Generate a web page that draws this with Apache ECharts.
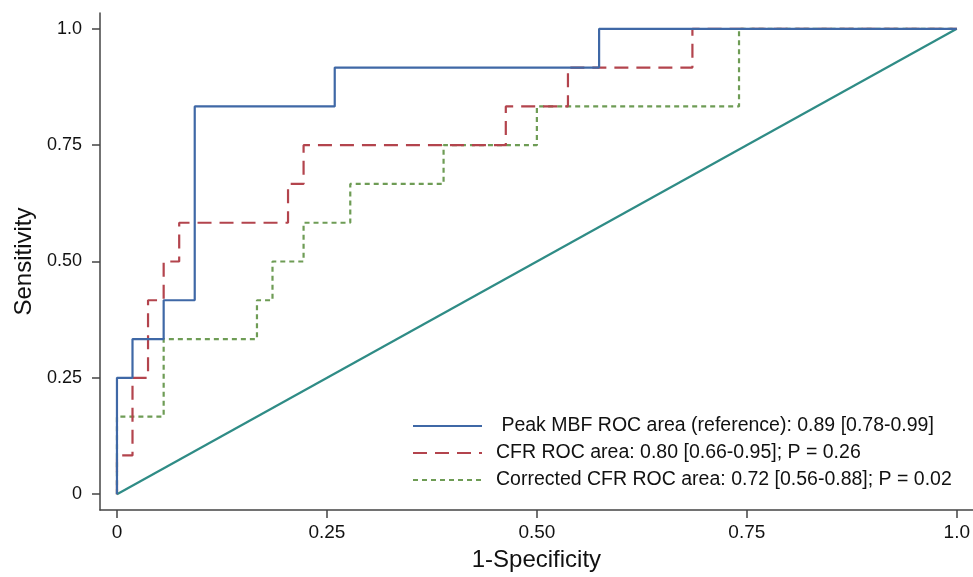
<!DOCTYPE html>
<html>
<head>
<meta charset="utf-8">
<script src="https://cdn.jsdelivr.net/npm/echarts@6/dist/echarts.min.js"></script>
<style>
  html, body { margin: 0; padding: 0; background: #fff; }
  #chart { width: 973px; height: 577px; }
</style>
</head>
<body>
<div id="chart"></div>
<script>
// ROC vertices (1-specificity, sensitivity)
var mbfX = [0, 0, 0.0185, 0.0185, 0.0556, 0.0556, 0.0926, 0.0926, 0.2593, 0.2593, 0.5741, 0.5741, 1];
var mbfY = [0, 0.25, 0.25, 0.3333, 0.3333, 0.4167, 0.4167, 0.8333, 0.8333, 0.9167, 0.9167, 1, 1];

var cfrX = [0, 0, 0.0185, 0.0185, 0.037, 0.037, 0.0556, 0.0556, 0.0741, 0.0741, 0.2037, 0.2037, 0.2222, 0.2222, 0.463, 0.463, 0.537, 0.537, 0.6852, 0.6852, 1];
var cfrY = [0, 0.0833, 0.0833, 0.25, 0.25, 0.4167, 0.4167, 0.5, 0.5, 0.5833, 0.5833, 0.6667, 0.6667, 0.75, 0.75, 0.8333, 0.8333, 0.9167, 0.9167, 1, 1];

var corrX = [0, 0, 0.0556, 0.0556, 0.1667, 0.1667, 0.1852, 0.1852, 0.2222, 0.2222, 0.2778, 0.2778, 0.3889, 0.3889, 0.5, 0.5, 0.7407, 0.7407, 1];
var corrY = [0, 0.1667, 0.1667, 0.3333, 0.3333, 0.4167, 0.4167, 0.5, 0.5, 0.5833, 0.5833, 0.6667, 0.6667, 0.75, 0.75, 0.8333, 0.8333, 1, 1];

var refX = [0, 1];
var refY = [0, 1];

var tickValues = [0, 0.25, 0.5, 0.75, 1];
var tickLabels = ['0', '0.25', '0.50', '0.75', '1.0'];

var names = [
  ' Peak MBF ROC area (reference): 0.89 [0.78-0.99]',
  'CFR ROC area: 0.80 [0.66-0.95]; P = 0.26',
  'Corrected CFR ROC area: 0.72 [0.56-0.88]; P = 0.02'
];

function pairs(xs, ys) {
  var out = [];
  for (var i = 0; i < xs.length; i++) {
    out.push([xs[i], ys[i]]);
  }
  return out;
}

function tickText(v) {
  var i = tickValues.indexOf(v);
  return i >= 0 ? tickLabels[i] : '';
}

var font = '"Liberation Sans", Arial, Helvetica, sans-serif';
var axisColor = '#444';

var chart = echarts.init(document.getElementById('chart'));
chart.setOption({
  animation: false,
  backgroundColor: '#fff',
  grid: {left: 100, right: 0, top: 13, bottom: 62},
  legend: {
    orient: 'vertical',
    left: 412,
    top: 416,
    padding: 0,
    itemWidth: 69,
    itemHeight: 14,
    itemGap: 7,
    data: names,
    itemStyle: {opacity: 0},
    textStyle: {
      fontFamily: font,
      fontSize: 19.5,
      color: '#111',
      padding: [0, 0, 0, 9]
    }
  },
  xAxis: {
    type: 'value',
    min: -0.0202,
    max: 1.019,
    name: '1-Specificity',
    nameLocation: 'middle',
    nameGap: 38,
    nameTextStyle: {fontFamily: font, fontSize: 24, color: '#111'},
    splitLine: {show: false},
    axisLine: {show: true, onZero: false, lineStyle: {color: axisColor, width: 1.5}},
    axisTick: {show: true, length: 8, customValues: tickValues, lineStyle: {color: axisColor, width: 1.5}},
    axisLabel: {
      customValues: tickValues,
      margin: 13,
      fontFamily: font,
      fontSize: 19,
      color: '#111',
      formatter: tickText
    }
  },
  yAxis: {
    type: 'value',
    min: -0.034,
    max: 1.034,
    name: 'Sensitivity',
    nameLocation: 'middle',
    nameGap: 63,
    nameTextStyle: {fontFamily: font, fontSize: 24, color: '#111'},
    splitLine: {show: false},
    axisLine: {show: true, onZero: false, lineStyle: {color: axisColor, width: 1.5}},
    axisTick: {show: true, length: 8, customValues: tickValues, lineStyle: {color: axisColor, width: 1.5}},
    axisLabel: {
      customValues: tickValues,
      margin: 18,
      fontFamily: font,
      fontSize: 18,
      color: '#111',
      formatter: tickText
    }
  },
  series: [
    {
      name: 'reference',
      type: 'line',
      symbol: 'none',
      data: pairs(refX, refY),
      lineStyle: {color: '#2f8c86', width: 2.2},
      z: 1
    },
    {
      name: names[2],
      type: 'line',
      symbol: 'none',
      data: pairs(corrX, corrY),
      itemStyle: {color: '#6e9c55'},
      lineStyle: {color: '#6e9c55', width: 2.2, type: [5, 4]},
      z: 2
    },
    {
      name: names[1],
      type: 'line',
      symbol: 'none',
      data: pairs(cfrX, cfrY),
      itemStyle: {color: '#b3444d'},
      lineStyle: {color: '#b3444d', width: 2.2, type: [14, 8]},
      z: 3
    },
    {
      name: names[0],
      type: 'line',
      symbol: 'none',
      data: pairs(mbfX, mbfY),
      itemStyle: {color: '#3f68a6'},
      lineStyle: {color: '#3f68a6', width: 2.2},
      z: 4
    }
  ]
});
</script>
</body>
</html>
